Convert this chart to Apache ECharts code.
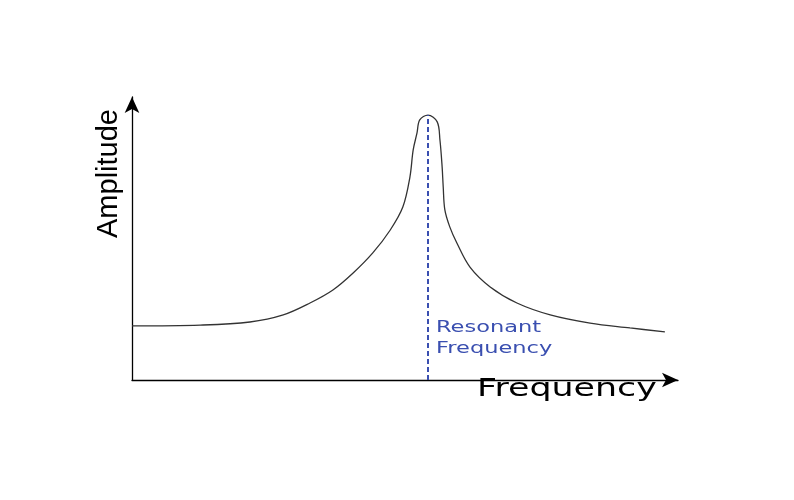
<!DOCTYPE html>
<html>
<head>
<meta charset="utf-8">
<script src="https://cdn.jsdelivr.net/npm/echarts@6/dist/echarts.min.js"></script>
<style>
html,body{margin:0;padding:0;background:#fff;}
#main{width:794px;height:500px;}
</style>
</head>
<body>
<div id="main"></div>
<script>
// response curve (arbitrary units 0..100)
var freq = [0, 12.5, 21.6, 27.7, 32.6, 36.8, 40.5, 44.1, 47.3, 49.6, 50.9, 51.5, 52.2, 52.7, 54.2, 55.9, 56.4, 56.8, 57.0, 57.3, 58.2, 59.5, 61.9, 65.6, 70.5, 76.6, 83.9, 91.2, 97.6];
var amp = [19.1, 19.4, 20.5, 23.0, 27.2, 31.8, 37.8, 44.9, 53.0, 61.1, 71.7, 81.3, 87.3, 91.9, 93.6, 91.2, 84.8, 75.3, 68.2, 60.1, 54.1, 48.4, 39.9, 32.9, 27.2, 23.0, 20.1, 18.4, 17.0];
var resonantFreq = 54.2;
var peakAmp = 93.6;
var xName = 'Frequency';
var yName = 'Amplitude';
var markText = 'Resonant\nFrequency';

var pts = [];
for (var i = 0; i < freq.length; i++) {
	pts.push([freq[i], amp[i]]);
}

var chart = echarts.init(document.getElementById('main'));
var option = {
	animation: false,
	grid: { left: 132, right: 116, top: 97, bottom: 120 },
	xAxis: {
		type: 'value', min: 0, max: 100,
		axisLine: { show: true, symbol: ['none', 'arrow'], symbolSize: [11, 16], lineStyle: { color: '#000', width: 1.3 } },
		axisTick: { show: false }, axisLabel: { show: false }, splitLine: { show: false }
	},
	yAxis: {
		type: 'value', min: 0, max: 100,
		axisLine: { show: true, symbol: ['none', 'arrow'], symbolSize: [11, 16], lineStyle: { color: '#000', width: 1.3 } },
		axisTick: { show: false }, axisLabel: { show: false }, splitLine: { show: false }
	},
	series: [{
		type: 'line',
		data: pts,
		smooth: 0.35,
		showSymbol: false,
		lineStyle: { color: '#333', width: 1.3 },
		markLine: {
			silent: true,
			symbol: ['none', 'none'],
			label: { show: false },
			lineStyle: { color: '#3a4fb0', type: [5, 3], width: 2 },
			data: [[{ coord: [resonantFreq, 0] }, { coord: [resonantFreq, peakAmp] }]]
		}
	}],
	graphic: [
		{
			type: 'text', left: 436, top: 318, scaleX: 1.5,
			style: { text: markText, fill: '#3a4fb0', font: '15px "DejaVu Sans"', lineHeight: 21 }
		},
		{
			type: 'text', x: 477, y: 378, scaleX: 1.45,
			style: { text: xName, fill: '#000', font: '24px "DejaVu Sans"' }
		},
		{
			type: 'text', x: 94, y: 238, rotation: Math.PI / 2,
			style: { text: yName, fill: '#000', font: '29px "Liberation Sans"' }
		}
	]
};
chart.setOption(option);
</script>
</body>
</html>
